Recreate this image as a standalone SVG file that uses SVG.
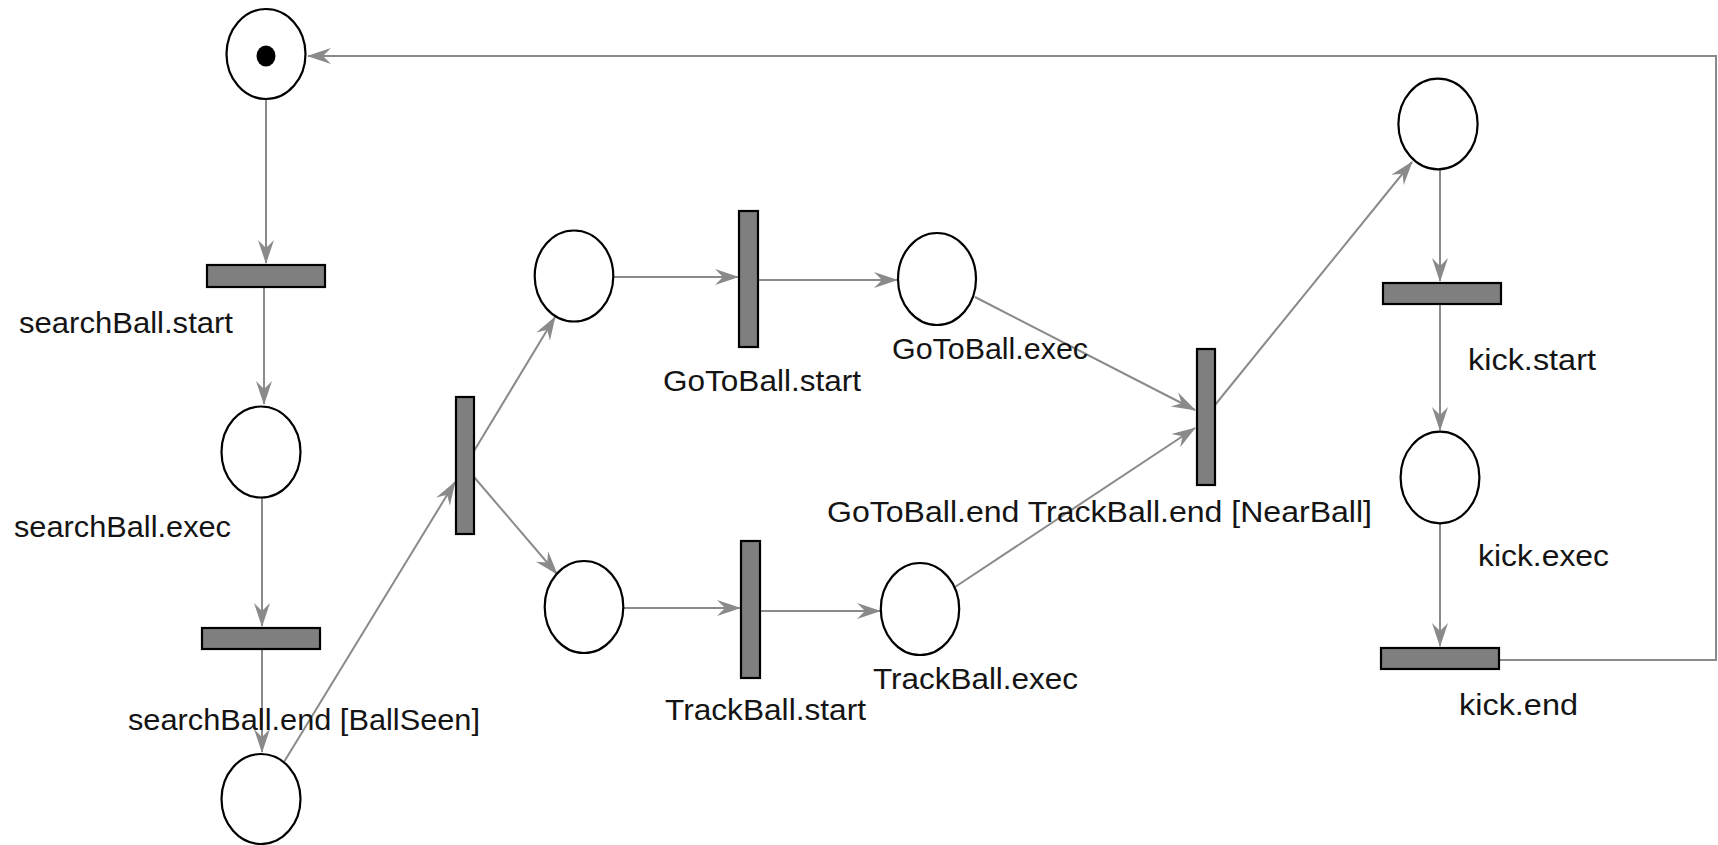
<svg xmlns="http://www.w3.org/2000/svg" width="1718" height="845" viewBox="0 0 1718 845">
<style>
.place{fill:#fff;stroke:#000;stroke-width:2.2}
.trans{fill:#7f7f7f;stroke:#000;stroke-width:2.2}
.arc{fill:none;stroke:#8a8a8a;stroke-width:2;marker-end:url(#ah)}
.loop{fill:none;stroke:#8a8a8a;stroke-width:2}
.lbl{font-family:"Liberation Sans",Arial,sans-serif;font-size:30px;fill:#141414}
</style>
<defs>
<marker id="ah" markerUnits="userSpaceOnUse" markerWidth="24" markerHeight="18" viewBox="0 0 24 18" refX="23" refY="9" orient="auto">
<path d="M24,9 L0,1 L8,9 L0,17 Z" fill="#8a8a8a"/>
</marker>
</defs>
<rect width="1718" height="845" fill="#fff"/>
<g id="connectors">
<line class="arc" x1="266" y1="100" x2="266" y2="263"/>
<line class="arc" x1="264" y1="288" x2="264" y2="404"/>
<line class="arc" x1="262" y1="498" x2="262" y2="626"/>
<line class="arc" x1="262" y1="650" x2="262" y2="752"/>
<line class="arc" x1="284" y1="762" x2="455" y2="482"/>
<line class="arc" x1="474" y1="451" x2="555" y2="317"/>
<line class="arc" x1="474" y1="477" x2="557" y2="574"/>
<line class="arc" x1="614" y1="277" x2="738" y2="277"/>
<line class="arc" x1="758" y1="280" x2="897" y2="280"/>
<line class="arc" x1="624" y1="608" x2="740" y2="608"/>
<line class="arc" x1="760" y1="611" x2="880" y2="611"/>
<line class="arc" x1="975" y1="297" x2="1195" y2="410"/>
<line class="arc" x1="955" y1="587" x2="1195" y2="428"/>
<line class="arc" x1="1215" y1="405" x2="1412" y2="162"/>
<line class="arc" x1="1440" y1="169" x2="1440" y2="281"/>
<line class="arc" x1="1440" y1="305" x2="1440" y2="430"/>
<line class="arc" x1="1440" y1="523" x2="1440" y2="646"/>
<polyline class="arc" points="1499,660 1716,660 1716,56 308,56"/>
</g>
<g id="p_search_idle">
<ellipse class="place" cx="266" cy="54" rx="39.5" ry="45"/>
<ellipse cx="266" cy="56" rx="9.5" ry="10.5" fill="#000"/>
</g>
<g id="t_searchBall_start">
<rect class="trans" x="207" y="265" width="118" height="22"/>
<text class="lbl" x="19" y="333" textLength="214" lengthAdjust="spacingAndGlyphs">searchBall.start</text>
</g>
<g id="p_searchBall_exec">
<ellipse class="place" cx="261" cy="452" rx="39.5" ry="45.5"/>
<text class="lbl" x="14" y="537" textLength="217" lengthAdjust="spacingAndGlyphs">searchBall.exec</text>
</g>
<g id="t_searchBall_end">
<rect class="trans" x="202" y="628" width="118" height="21"/>
<text class="lbl" x="128" y="730" textLength="352" lengthAdjust="spacingAndGlyphs">searchBall.end [BallSeen]</text>
</g>
<g id="p_ball_seen">
<ellipse class="place" cx="261" cy="799" rx="39.5" ry="45"/>
</g>
<g id="t_fork">
<rect class="trans" x="456" y="397" width="18" height="137"/>
</g>
<g id="p_goto_ready">
<ellipse class="place" cx="574" cy="276" rx="39.3" ry="45.5"/>
</g>
<g id="t_GoToBall_start">
<rect class="trans" x="739" y="211" width="19" height="136"/>
<text class="lbl" x="663" y="391" textLength="198" lengthAdjust="spacingAndGlyphs">GoToBall.start</text>
</g>
<g id="p_GoToBall_exec">
<ellipse class="place" cx="937" cy="279" rx="39" ry="46"/>
<text class="lbl" x="892" y="359" textLength="196" lengthAdjust="spacingAndGlyphs">GoToBall.exec</text>
</g>
<g id="p_track_ready">
<ellipse class="place" cx="584" cy="607" rx="39.3" ry="46"/>
</g>
<g id="t_TrackBall_start">
<rect class="trans" x="741" y="541" width="19" height="137"/>
<text class="lbl" x="665" y="720" textLength="201" lengthAdjust="spacingAndGlyphs">TrackBall.start</text>
</g>
<g id="p_TrackBall_exec">
<ellipse class="place" cx="920" cy="609" rx="39.2" ry="46"/>
<text class="lbl" x="873" y="689" textLength="205" lengthAdjust="spacingAndGlyphs">TrackBall.exec</text>
</g>
<g id="t_join">
<rect class="trans" x="1197" y="349" width="18" height="136"/>
<text class="lbl" x="827" y="522" textLength="545" lengthAdjust="spacingAndGlyphs">GoToBall.end TrackBall.end [NearBall]</text>
</g>
<g id="p_kick_ready">
<ellipse class="place" cx="1438" cy="124" rx="39.6" ry="45.3"/>
</g>
<g id="t_kick_start">
<rect class="trans" x="1383" y="283" width="118" height="21"/>
<text class="lbl" x="1468" y="370" textLength="128" lengthAdjust="spacingAndGlyphs">kick.start</text>
</g>
<g id="p_kick_exec">
<ellipse class="place" cx="1440" cy="477.5" rx="39.4" ry="45.8"/>
<text class="lbl" x="1478" y="566" textLength="131" lengthAdjust="spacingAndGlyphs">kick.exec</text>
</g>
<g id="t_kick_end">
<rect class="trans" x="1381" y="648" width="118" height="21"/>
<text class="lbl" x="1459" y="715" textLength="119" lengthAdjust="spacingAndGlyphs">kick.end</text>
</g>
</svg>
